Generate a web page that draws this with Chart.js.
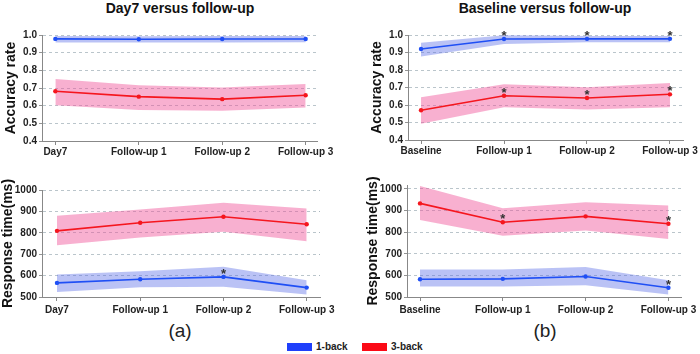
<!doctype html>
<html lang="en">
<head>
  <meta charset="utf-8">
  <title>N-back accuracy and response time</title>
  <script src="https://cdn.jsdelivr.net/npm/chart.js"></script>
  <style>
    body {
      margin: 0;
      background: #fff;
      font-family: 'Liberation Sans', Arial, sans-serif;
    }

    #wrap {
      position: relative;
      width: 700px;
      height: 354px;
      overflow: hidden;
    }

    .box {
      position: absolute;
    }

    .ttl {
      position: absolute;
      top: 0;
      font-weight: bold;
      font-size: 14px;
      color: #111;
      text-align: center;
      width: 300px;
    }

    .cap {
      position: absolute;
      top: 320px;
      font-size: 19px;
      color: #222;
      width: 40px;
      text-align: center;
    }

    .leg {
      position: absolute;
      top: 341px;
      font-size: 10px;
      font-weight: bold;
      color: #222;
      display: flex;
      align-items: center;
    }

    .leg span {
      display: inline-block;
      width: 25px;
      height: 8px;
      margin-right: 4px;
    }
  </style>
</head>
<body>
  <div id="wrap">
    <div class="ttl" style="left:30px">Day7 versus follow-up</div>
    <div class="ttl" style="left:395px">Baseline versus follow-up</div>

    <div class="box" style="left:0;top:0"><canvas id="accA" width="350" height="160"></canvas></div>
    <div class="box" style="left:366px;top:0"><canvas id="accB" width="334" height="160"></canvas></div>
    <div class="box" style="left:0;top:160px"><canvas id="rtA" width="350" height="160"></canvas></div>
    <div class="box" style="left:365px;top:160px"><canvas id="rtB" width="335" height="160"></canvas></div>

    <div class="cap" style="left:160px">(a)</div>
    <div class="cap" style="left:525px">(b)</div>

    <div class="leg" style="left:287px"><span style="background:#1f3ffb"></span>1-back</div>
    <div class="leg" style="left:362px"><span style="background:#fb0a16"></span>3-back</div>
  </div>

  <script>
    // categories
    const catsA = ['Day7', 'Follow-up 1', 'Follow-up 2', 'Follow-up 3'];
    const catsB = ['Baseline', 'Follow-up 1', 'Follow-up 2', 'Follow-up 3'];

    // accuracy, Day7 vs follow-up
    const accA1 = [0.978, 0.976, 0.977, 0.977];
    const accA1Hi = [0.995, 0.993, 0.994, 0.994];
    const accA1Lo = [0.958, 0.957, 0.958, 0.959];
    const accA3 = [0.682, 0.651, 0.637, 0.659];
    const accA3Hi = [0.751, 0.716, 0.703, 0.722];
    const accA3Lo = [0.603, 0.575, 0.571, 0.589];

    // accuracy, baseline vs follow-up
    const accB1 = [0.920, 0.977, 0.978, 0.978];
    const accB1Hi = [0.956, 0.998, 0.995, 0.995];
    const accB1Lo = [0.877, 0.948, 0.958, 0.958];
    const accB3 = [0.570, 0.653, 0.640, 0.661];
    const accB3Hi = [0.644, 0.718, 0.702, 0.726];
    const accB3Lo = [0.493, 0.587, 0.575, 0.587];

    // response time (ms), Day7 vs follow-up
    const rtA1 = [566, 583, 594, 544];
    const rtA1Hi = [605, 620, 641, 578];
    const rtA1Lo = [523, 545, 548, 512];
    const rtA3 = [809, 847, 875, 840];
    const rtA3Hi = [880, 909, 941, 914];
    const rtA3Lo = [742, 778, 805, 761];

    // response time (ms), baseline vs follow-up
    const rtB1 = [582, 584, 595, 543];
    const rtB1Hi = [627, 627, 639, 577];
    const rtB1Lo = [548, 549, 554, 512];
    const rtB3 = [933, 846, 873, 839];
    const rtB3Hi = [1013, 911, 938, 923];
    const rtB3Lo = [856, 783, 808, 768];

    // significance marks (indices into categories)
    const starsAccB1 = [1, 2, 3];
    const starsAccB3 = [1, 2, 3];
    const starsRtA1 = [2];
    const starsRtB1 = [3];
    const starsRtB3 = [1, 3];

    const accTicks = [0.4, 0.5, 0.6, 0.7, 0.8, 0.9, 1.0];
    const rtTicks = [500, 600, 700, 800, 900, 1000];

    const FONT = "'Liberation Sans', Arial, sans-serif";
    const BLUE = '#1f4ff5';
    const RED = '#f5161e';
    const BLUE_BAND = 'rgba(90, 110, 230, 0.42)';
    const RED_BAND = 'rgba(240, 80, 150, 0.45)';

    const starPlugin = {
      id: 'stars',
      afterDatasetsDraw(chart, args, opts) {
        const ctx = chart.ctx;
        const x = chart.scales.x, y = chart.scales.y;
        ctx.save();
        ctx.fillStyle = '#333';
        ctx.font = 'bold 13px ' + FONT;
        ctx.textAlign = 'center';
        ctx.textBaseline = 'alphabetic';
        (opts.items || []).forEach(it => {
          it.idx.forEach(i => {
            ctx.fillText('*', x.getPixelForValue(i), y.getPixelForValue(it.values[i]) + 1);
          });
        });
        ctx.restore();
      }
    };

    function pts(arr) {
      return arr.map((v, i) => ({ x: i, y: v }));
    }

    function series(mean, hi, lo, line, band) {
      return [
        { data: pts(hi), fill: '+1', backgroundColor: band, borderWidth: 0, pointRadius: 0, order: 2, clip: false },
        { data: pts(lo), fill: false, borderWidth: 0, pointRadius: 0, order: 2, clip: false },
        {
          data: pts(mean), fill: false, borderColor: line, backgroundColor: line, borderWidth: 1.6,
          pointRadius: 2.2, pointBorderWidth: 0, order: 1, clip: false
        }
      ];
    }

    function makeChart(id, cfg) {
      new Chart(document.getElementById(id), {
        type: 'line',
        data: { datasets: cfg.datasets },
        plugins: [starPlugin],
        options: {
          responsive: false,
          animation: false,
          layout: { padding: { top: cfg.top, right: cfg.right, left: 0, bottom: 0 } },
          plugins: {
            legend: { display: false },
            tooltip: { enabled: false },
            stars: { items: cfg.stars }
          },
          scales: {
            x: {
              type: 'linear',
              min: cfg.xmin,
              max: cfg.xmax,
              afterBuildTicks: s => { s.ticks = cfg.cats.map((_, i) => ({ value: i })); },
              afterFit: s => { s.height = cfg.xh; },
              grid: { display: true, drawOnChartArea: false, drawTicks: true, tickLength: 4, color: '#888' },
              border: { display: true, color: '#888', width: 1 },
              ticks: {
                autoSkip: false, maxRotation: 0, padding: cfg.xpad,
                color: '#222', font: { family: FONT, size: 10, weight: 'bold' },
                callback: v => cfg.cats[v]
              }
            },
            y: {
              min: cfg.ticks[0],
              max: cfg.ymax,
              afterBuildTicks: s => { s.ticks = cfg.ticks.map(v => ({ value: v })); },
              afterFit: s => { s.width = 42; },
              grid: { color: '#a9b6be', lineWidth: 0.8, drawTicks: true, tickLength: 3, tickColor: '#777' },
              border: { display: true, color: '#888', width: 1, dash: [3, 3] },
              ticks: {
                padding: 2, color: '#222', font: { family: FONT, size: 10, weight: 'bold' },
                callback: v => cfg.fmt(v)
              },
              title: {
                display: true, text: cfg.ytitle, color: '#111',
                font: { family: FONT, size: 14, weight: 'bold' },
                padding: { top: cfg.tpad, bottom: 0 }
              }
            }
          }
        }
      });
    }

    const fmtAcc = v => v.toFixed(1);
    const fmtRt = v => String(v);

    makeChart('accA', {
      cats: catsA, ticks: accTicks, ymax: 1.0, fmt: fmtAcc, ytitle: 'Accuracy rate',
      top: 35, right: 33, xh: 19, xpad: 1, tpad: 3, xmin: -0.16, xmax: 3.136,
      datasets: [...series(accA1, accA1Hi, accA1Lo, BLUE, BLUE_BAND), ...series(accA3, accA3Hi, accA3Lo, RED, RED_BAND)],
      stars: []
    });

    makeChart('accB', {
      cats: catsB, ticks: accTicks, ymax: 1.0, fmt: fmtAcc, ytitle: 'Accuracy rate',
      top: 35, right: 17, xh: 20, xpad: 1, tpad: 3, xmin: -0.157, xmax: 3.157,
      datasets: [...series(accB1, accB1Hi, accB1Lo, BLUE, BLUE_BAND), ...series(accB3, accB3Hi, accB3Lo, RED, RED_BAND)],
      stars: [{ values: accB1, idx: starsAccB1 }, { values: accB3, idx: starsAccB3 }]
    });

    makeChart('rtA', {
      cats: catsA, ticks: rtTicks, ymax: 1000, fmt: fmtRt, ytitle: 'Response time(ms)',
      top: 30, right: 30, xh: 23, xpad: 3, tpad: 0, xmin: -0.18, xmax: 3.16,
      datasets: [...series(rtA1, rtA1Hi, rtA1Lo, BLUE, BLUE_BAND), ...series(rtA3, rtA3Hi, rtA3Lo, RED, RED_BAND)],
      stars: [{ values: rtA1, idx: starsRtA1 }]
    });

    makeChart('rtB', {
      cats: catsB, ticks: rtTicks, ymax: 1018, fmt: fmtRt, ytitle: 'Response time(ms)',
      top: 25, right: 17, xh: 23, xpad: 3, tpad: 0, xmin: -0.157, xmax: 3.157,
      datasets: [...series(rtB1, rtB1Hi, rtB1Lo, BLUE, BLUE_BAND), ...series(rtB3, rtB3Hi, rtB3Lo, RED, RED_BAND)],
      stars: [{ values: rtB1, idx: starsRtB1 }, { values: rtB3, idx: starsRtB3 }]
    });
  </script>
</body>
</html>
